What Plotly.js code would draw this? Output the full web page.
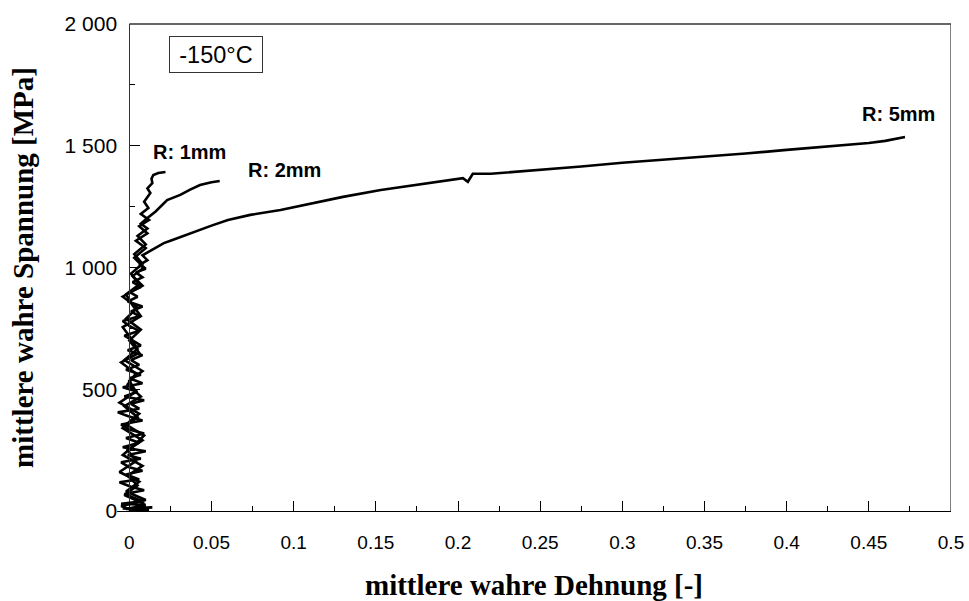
<!DOCTYPE html>
<html>
<head>
<meta charset="utf-8">
<script src="https://cdn.plot.ly/plotly-3.0.1.min.js"></script>
<style>html,body{margin:0;padding:0;background:#fff;}#chart{width:969px;height:601px;}</style>
</head>
<body>
<div id="chart"></div>
<script>
// R: 5mm  (mittlere wahre Dehnung [-], mittlere wahre Spannung [MPa])
const r5Strain = [0,0.012,-0.004,0.014,-0.002,0.010,-0.005,0.008,0.002,-0.003,0.009,0.001,-0.006,0.006,-0.002,0.008,0.000,-0.005,0.007,-0.001,0.010,-0.004,0.006,-0.002,0.009,0.000,-0.005,0.008,-0.001,-0.007,0.006,0.001,0.009,-0.003,0.005,-0.004,0.008,0.000,0.007,-0.002,0.006,0.001,0.008,-0.001,0.007,0.002,-0.003,0.006,0.000,-0.004,0.006,0.001,0.008,-0.001,0.005,0.000,0.007,0.002,0.008,0.004,0.010,0.006,0.011,0.008,0.012,0.018,0.021,0.025,0.031,0.040,0.050,0.060,0.0736,0.092,0.110,0.130,0.153,0.175,0.190,0.203,0.206,0.209,0.220,0.250,0.275,0.300,0.325,0.350,0.375,0.400,0.425,0.450,0.460,0.472];
const r5Stress = [0,5,10,15,8,25,30,40,55,70,85,100,118,130,150,165,180,200,215,230,245,262,280,300,318,335,355,372,390,405,420,440,455,470,490,508,525,545,560,580,600,620,640,660,680,700,720,740,760,780,800,820,840,860,880,900,920,940,960,980,995,1010,1030,1050,1065,1090,1100,1110,1125,1150,1172,1195,1216,1236,1262,1290,1318,1340,1355,1367,1352,1385,1385,1400,1415,1430,1442,1454,1468,1483,1497,1511,1520,1536];
// R: 2mm
const r2Strain = [0.001,0.009,-0.003,0.005,-0.001,0.008,-0.004,0.003,0.009,-0.002,0.006,-0.006,0.004,0.000,0.008,-0.003,0.005,0.001,-0.004,0.007,0.002,-0.002,0.006,0.001,0.008,0.003,0.010,0.005,0.011,0.007,0.011,0.016,0.023,0.031,0.037,0.043,0.050,0.055];
const r2Stress = [0,30,65,105,145,185,230,270,310,355,400,445,490,535,575,620,665,710,755,800,845,890,930,975,1015,1055,1095,1130,1160,1180,1203,1230,1277,1298,1320,1339,1350,1355];
// R: 1mm
const r1Strain = [0.003,-0.005,0.010,-0.002,0.006,-0.006,0.004,-0.001,0.008,-0.004,0.005,-0.003,0.007,-0.001,0.004,-0.005,0.006,0.000,0.007,-0.002,0.005,-0.004,0.008,0.002,0.009,0.003,0.010,0.004,0.011,0.006,0.012,0.007,0.0116,0.009,0.0128,0.011,0.014,0.0135,0.0146,0.0176,0.022];
const r1Stress = [0,20,45,80,120,160,205,250,290,340,385,430,470,520,565,610,650,700,745,790,835,880,925,965,1000,1040,1080,1110,1140,1170,1195,1220,1244,1270,1306,1325,1347,1365,1380,1388,1392];

const seriesNames = ["R: 1mm", "R: 2mm", "R: 5mm"];
const xTickVals = [0,0.05,0.1,0.15,0.2,0.25,0.3,0.35,0.4,0.45,0.5];
const xTickText = ["0","0.05","0.1","0.15","0.2","0.25","0.3","0.35","0.4","0.45","0.5"];
const yTickVals = [0,500,1000,1500,2000];
const yTickText = ["0","500","1 000","1 500","2 000"];

const lineStyle = {color:"#000", width:2.6};
const traces = [
  {x:r5Strain, y:r5Stress, name:seriesNames[2], mode:"lines", line:lineStyle},
  {x:r2Strain, y:r2Stress, name:seriesNames[1], mode:"lines", line:lineStyle},
  {x:r1Strain, y:r1Stress, name:seriesNames[0], mode:"lines", line:lineStyle}
];

const xMin = -0.0075, xMax = 0.5;
const layout = {
  width:969, height:601,
  margin:{l:117, r:18, t:24, b:90},
  paper_bgcolor:"#fff", plot_bgcolor:"#fff",
  showlegend:false,
  font:{family:"Liberation Sans, Arial, sans-serif", color:"#000"},
  xaxis:{
    range:[xMin, xMax], showgrid:false, zeroline:false,
    showline:true, linecolor:"#000", linewidth:1,
    ticks:"inside", ticklen:10, tickcolor:"#000",
    tickvals:xTickVals, ticktext:xTickText, ticklabelstandoff:14,
    tickfont:{size:19, family:"Liberation Sans, Arial, sans-serif"},
    minor:{tickvals:[0.025,0.075,0.125,0.175,0.225,0.275,0.325,0.375,0.425,0.475], ticks:"inside", ticklen:5, tickcolor:"#000"},
    title:{text:"mittlere wahre Dehnung [-]", font:{family:"Liberation Serif, Times New Roman, serif", size:29, weight:"bold"}, standoff:24}
  },
  yaxis:{
    range:[0,2000], showgrid:false, zeroline:false,
    anchor:"free", position:(0 - xMin)/(xMax - xMin),
    showline:true, linecolor:"#333", linewidth:1,
    ticks:"inside", ticklen:10, tickcolor:"#000",
    tickvals:yTickVals, ticktext:yTickText, ticklabelstandoff:8,
    tickfont:{size:21, family:"Liberation Sans, Arial, sans-serif"},
    minor:{tickvals:[250,750,1250,1750], ticks:"inside", ticklen:5, tickcolor:"#000"},
    title:{text:"mittlere wahre Spannung [MPa]", font:{family:"Liberation Serif, Times New Roman, serif", size:29, weight:"bold"}, standoff:21}
  },
  shapes:[
    {type:"line", xref:"x", yref:"paper", x0:0, x1:xMax, y0:1, y1:1, line:{color:"#333", width:1.5}},
    {type:"line", xref:"x", yref:"paper", x0:xMax, x1:xMax, y0:0, y1:1, line:{color:"#555", width:1.5}}
  ],
  annotations:[
    {xref:"x", yref:"y", x:0.053, y:1873, text:"-150°C", showarrow:false,
     font:{size:23.5, family:"Liberation Sans, Arial, sans-serif"},
     bordercolor:"#333", borderwidth:1, borderpad:3, width:86, height:29, bgcolor:"#fff"},
    {xref:"x", yref:"y", x:0.0365, y:1474, text:"<b>"+seriesNames[0]+"</b>", showarrow:false, font:{size:20}},
    {xref:"x", yref:"y", x:0.0943, y:1400, text:"<b>"+seriesNames[1]+"</b>", showarrow:false, font:{size:20}},
    {xref:"x", yref:"y", x:0.468, y:1630, text:"<b>"+seriesNames[2]+"</b>", showarrow:false, font:{size:20}}
  ]
};
Plotly.newPlot("chart", traces, layout, {displayModeBar:false, staticPlot:true});
</script>
</body>
</html>
